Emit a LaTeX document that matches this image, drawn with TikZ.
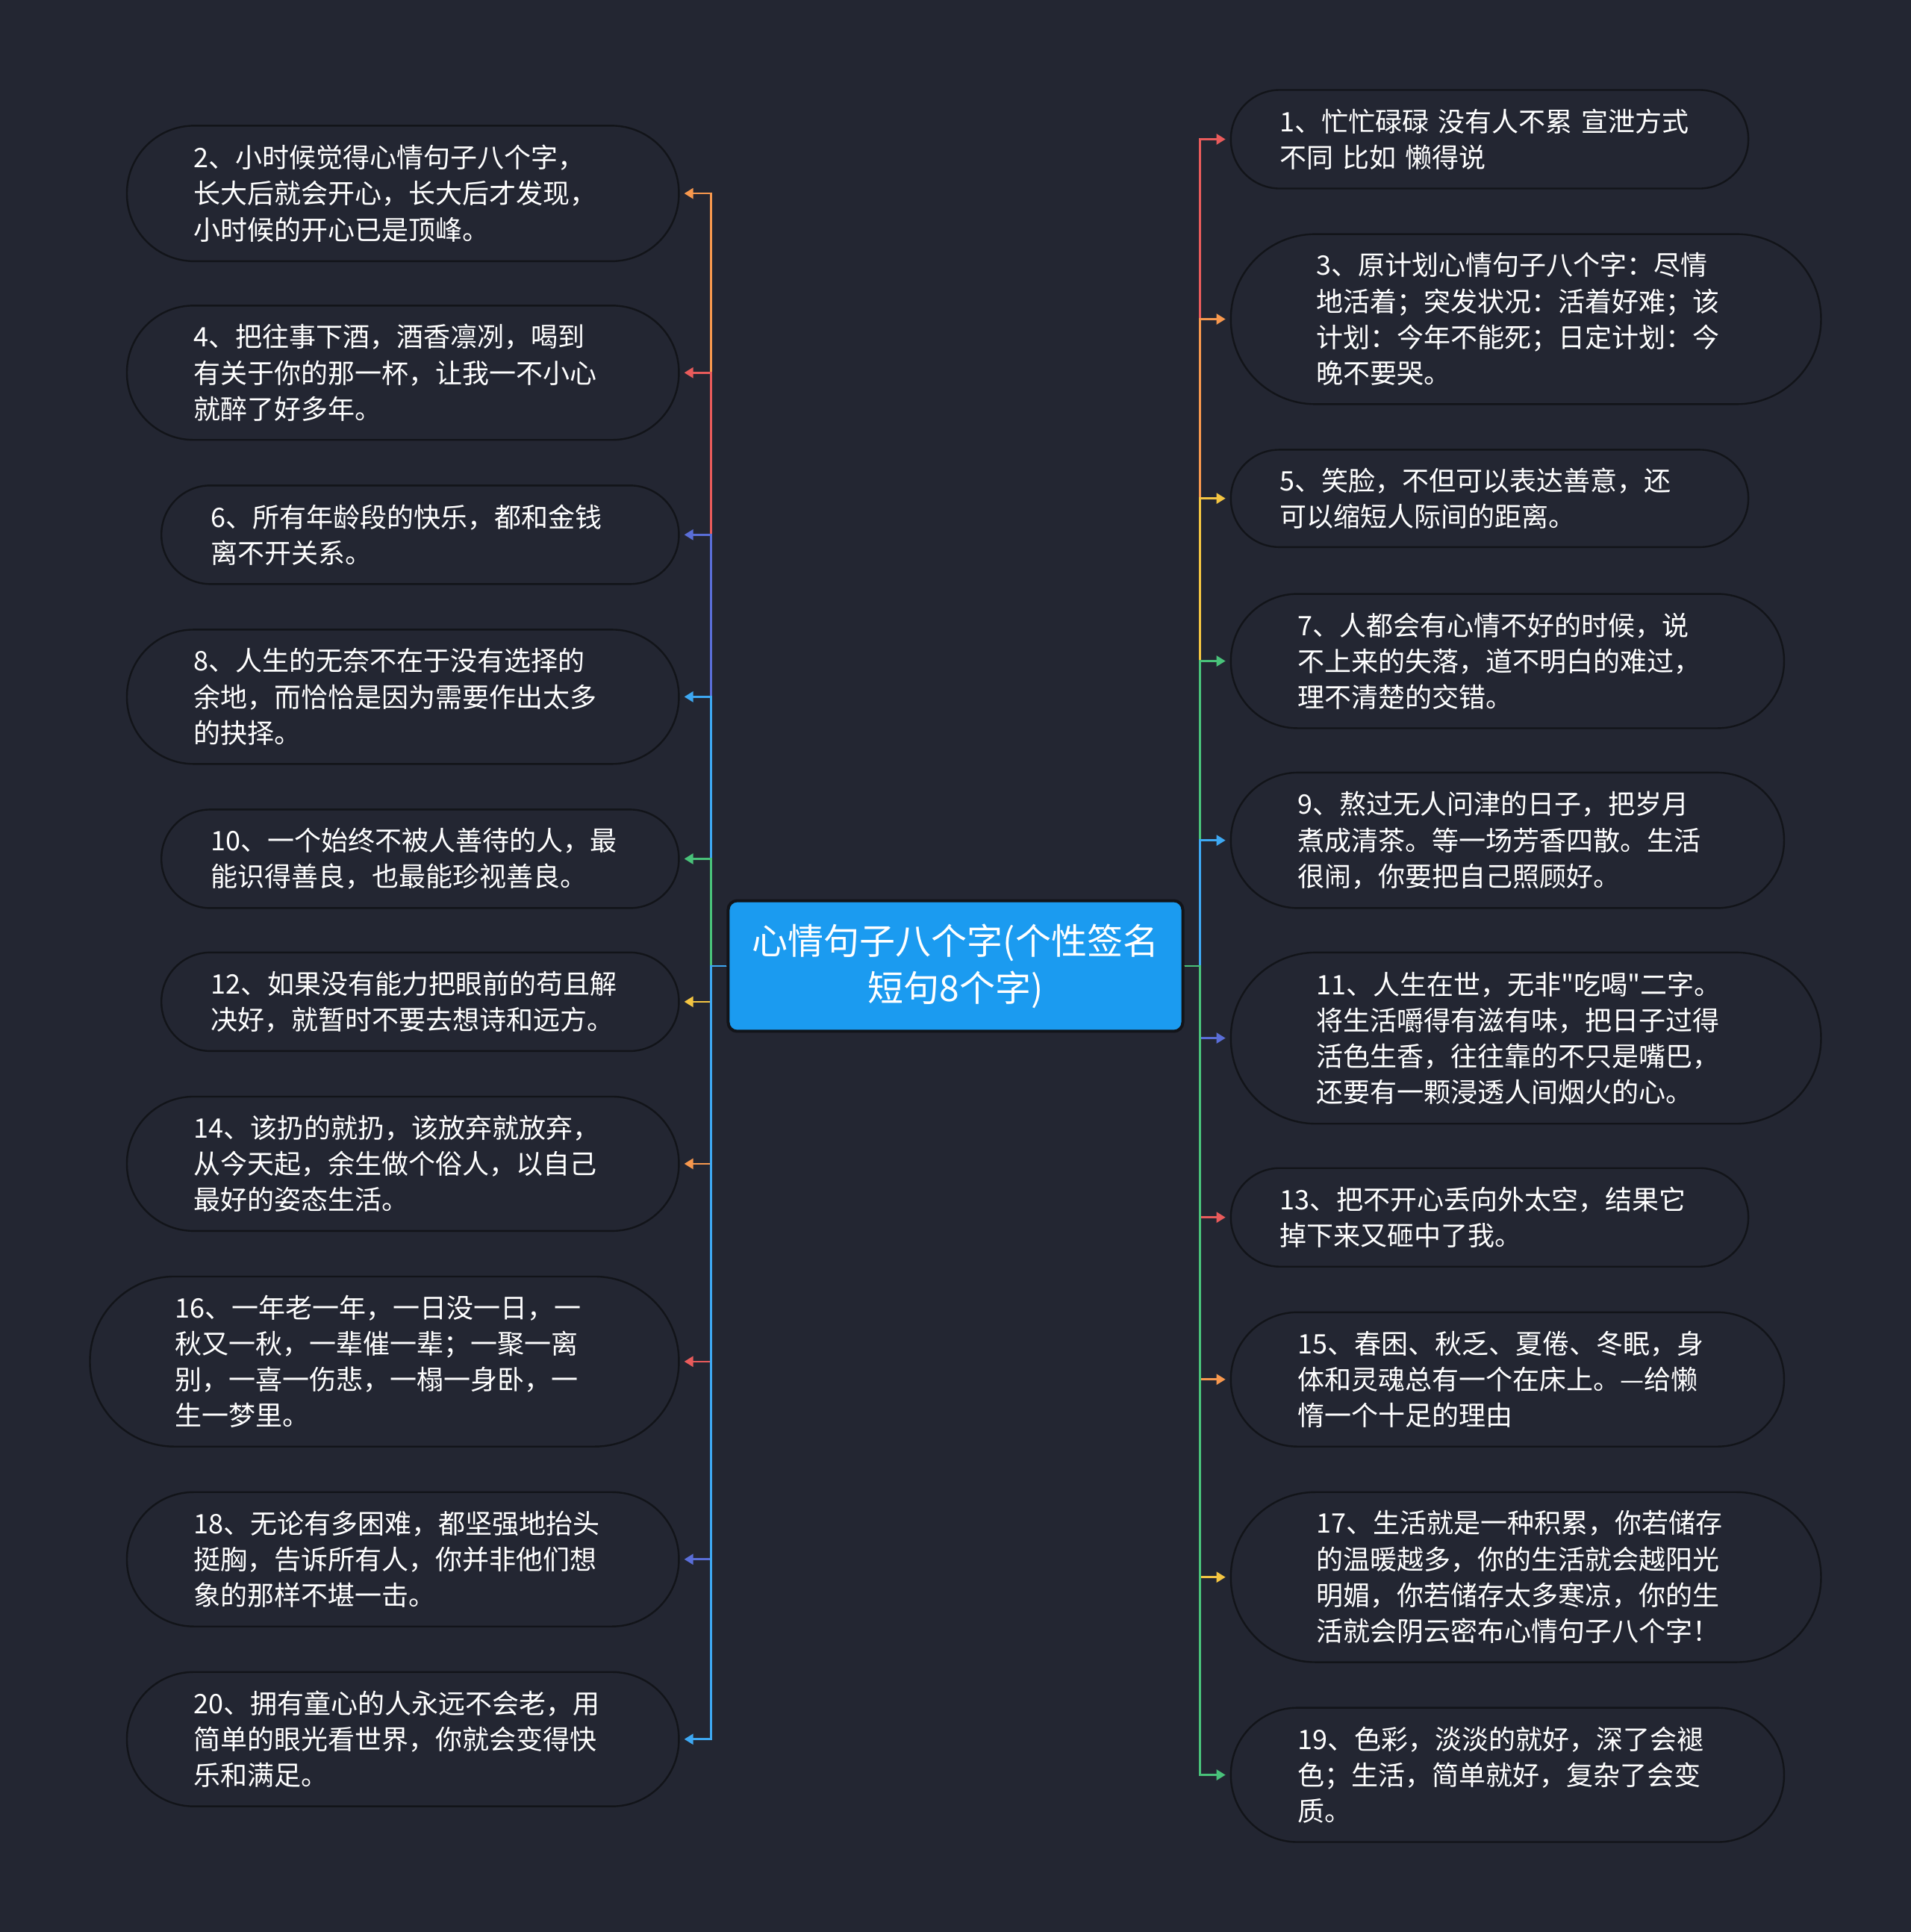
\documentclass[tikz,border=0pt]{standalone}
\usepackage{fontspec}
\setmainfont[Ligatures=TeXOff]{Noto Sans CJK SC}
\usepackage{tikz}
\usetikzlibrary{arrows.meta, positioning}
\definecolor{bgc}{HTML}{232632}
\definecolor{edgec}{HTML}{121419}
\definecolor{rootc}{HTML}{1B9BF0}
\definecolor{cred}{HTML}{E95B5B}
\definecolor{corange}{HTML}{F7984E}
\definecolor{cyellow}{HTML}{F4C542}
\definecolor{cgreen}{HTML}{49C27A}
\definecolor{cblue}{HTML}{3EA8F2}
\definecolor{cindigo}{HTML}{5A6ED8}

\begin{document}
\begin{tikzpicture}[x=0.8253pt, y=-0.8253pt,
  leaf/.style 2 args={rectangle, draw=edgec, line width=1.2pt, fill=bgc,
    text=white, font=\fontsize{18}{24.1}\selectfont, align=left, inner sep=0pt,
    text width=280.6pt, minimum width=#1*0.8253pt, minimum height=#2*0.8253pt,
    rounded corners=#2*0.41pt},
  link/.style={line width=1.3pt, -{Triangle[length=6pt, width=7pt]}, shorten >=3pt}]

\fill[bgc] (0,0) rectangle (1551,1568);
\useasboundingbox (0,0) rectangle (1551,1568);

% --- Root ---
\node[rectangle, draw=edgec, line width=2pt, fill=rootc, rounded corners=6pt,
  text=white, align=center, minimum width=369*0.8253pt, minimum height=106*0.8253pt,
  font=\fontsize{24}{31.4}\selectfont] (root) at (775.5,784)
{心情句子八个字(个性签名\\短句8个字)};

\coordinate (lsp) at (577,784);
\coordinate (rsp) at (974,784);

% --- Left side ---
\node[leaf={448}{110}] (n2) at (327,157)
{2、小时候觉得心情句子八个字，\\长大后就会开心，长大后才发现，\\小时候的开心已是顶峰。};
\node[leaf={448}{109}] (n4) at (327,302.5)
{4、把往事下酒，酒香凛冽，喝到\\有关于你的那一杯，让我一不小心\\就醉了好多年。};
\node[leaf={420}{80}] (n6) at (341,434)
{6、所有年龄段的快乐，都和金钱\\离不开关系。};
\node[leaf={448}{109}] (n8) at (327,565.5)
{8、人生的无奈不在于没有选择的\\余地，而恰恰是因为需要作出太多\\的抉择。};
\node[leaf={420}{80}] (n10) at (341,697)
{10、一个始终不被人善待的人，最\\能识得善良，也最能珍视善良。};
\node[leaf={420}{80}] (n12) at (341,813)
{12、如果没有能力把眼前的苟且解\\决好，就暂时不要去想诗和远方。};
\node[leaf={448}{109}] (n14) at (327,944.5)
{14、该扔的就扔，该放弃就放弃，\\从今天起，余生做个俗人，以自己\\最好的姿态生活。};
\node[leaf={478}{138}] (n16) at (312,1105)
{16、一年老一年，一日没一日，一\\秋又一秋，一辈催一辈；一聚一离\\别，一喜一伤悲，一榻一身卧，一\\生一梦里。};
\node[leaf={448}{109}] (n18) at (327,1265.5)
{18、无论有多困难，都坚强地抬头\\挺胸，告诉所有人，你并非他们想\\象的那样不堪一击。};
\node[leaf={448}{109}] (n20) at (327,1411.5)
{20、拥有童心的人永远不会老，用\\简单的眼光看世界，你就会变得快\\乐和满足。};

% --- Right side ---
\node[leaf={420}{80}] (n1) at (1209,113)
{1、忙忙碌碌 没有人不累 宣泄方式\\不同 比如 懒得说};
\node[leaf={479}{138}] (n3) at (1238.5,259)
{3、原计划心情句子八个字：尽情\\地活着；突发状况：活着好难；该\\计划：今年不能死；日定计划：今\\晚不要哭。};
\node[leaf={420}{79}] (n5) at (1209,404.5)
{5、笑脸，不但可以表达善意，还\\可以缩短人际间的距离。};
\node[leaf={449}{109}] (n7) at (1223.5,536.5)
{7、人都会有心情不好的时候，说\\不上来的失落，道不明白的难过，\\理不清楚的交错。};
\node[leaf={449}{110}] (n9) at (1223.5,682)
{9、熬过无人问津的日子，把岁月\\煮成清茶。等一场芳香四散。生活\\很闹，你要把自己照顾好。};
\node[leaf={479}{139}] (n11) at (1238.5,842.5)
{11、人生在世，无非"吃喝"二字。\\将生活嚼得有滋有味，把日子过得\\活色生香，往往靠的不只是嘴巴，\\还要有一颗浸透人间烟火的心。};
\node[leaf={420}{80}] (n13) at (1209,988)
{13、把不开心丢向外太空，结果它\\掉下来又砸中了我。};
\node[leaf={449}{109}] (n15) at (1223.5,1119.5)
{15、春困、秋乏、夏倦、冬眠，身\\体和灵魂总有一个在床上。—给懒\\惰一个十足的理由};
\node[leaf={479}{138}] (n17) at (1238.5,1280)
{17、生活就是一种积累，你若储存\\的温暖越多，你的生活就会越阳光\\明媚，你若储存太多寒凉，你的生\\活就会阴云密布心情句子八个字！};
\node[leaf={449}{109}] (n19) at (1223.5,1440.5)
{19、色彩，淡淡的就好，深了会褪\\色；生活，简单就好，复杂了会变\\质。};

% --- Links, left ---
\draw[link, corange] (root.west) -- (lsp) |- (n2.east);
\draw[link, cred] (root.west) -- (lsp) |- (n4.east);
\draw[link, cindigo] (root.west) -- (lsp) |- (n6.east);
\draw[link, cblue] (root.west) -- (lsp) |- (n8.east);
\draw[link, cgreen] (root.west) -- (lsp) |- (n10.east);
\draw[link, cyellow] (root.west) -- (lsp) |- (n12.east);
\draw[link, corange] (root.west) -- (lsp) |- (n14.east);
\draw[link, cred] (root.west) -- (lsp) |- (n16.east);
\draw[link, cindigo] (root.west) -- (lsp) |- (n18.east);
\draw[link, cblue] (root.west) -- (lsp) |- (n20.east);

% --- Links, right ---
\draw[link, cred] (root.east) -- (rsp) |- (n1.west);
\draw[link, corange] (root.east) -- (rsp) |- (n3.west);
\draw[link, cyellow] (root.east) -- (rsp) |- (n5.west);
\draw[link, cgreen] (root.east) -- (rsp) |- (n7.west);
\draw[link, cblue] (root.east) -- (rsp) |- (n9.west);
\draw[link, cindigo] (root.east) -- (rsp) |- (n11.west);
\draw[link, cred] (root.east) -- (rsp) |- (n13.west);
\draw[link, corange] (root.east) -- (rsp) |- (n15.west);
\draw[link, cyellow] (root.east) -- (rsp) |- (n17.west);
\draw[link, cgreen] (root.east) -- (rsp) |- (n19.west);

\end{tikzpicture}
\end{document}
